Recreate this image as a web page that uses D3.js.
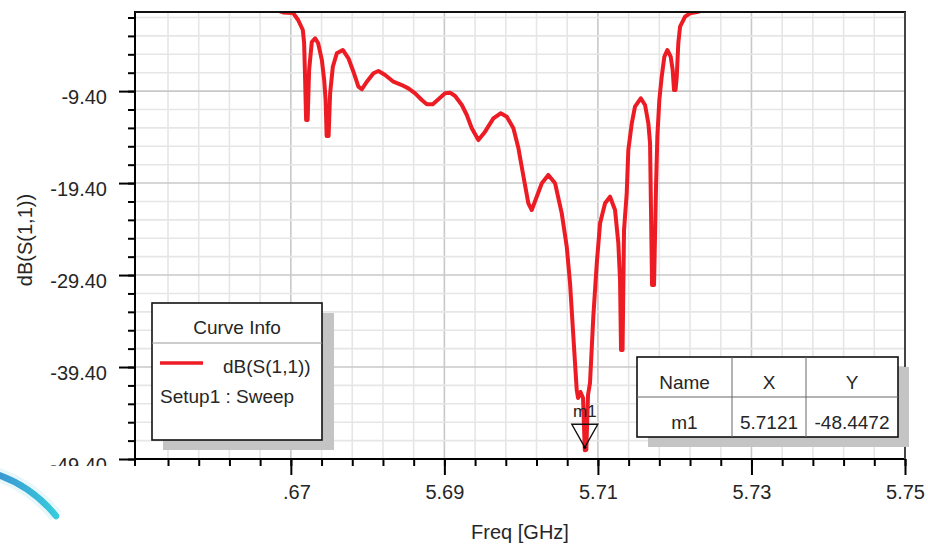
<!DOCTYPE html>
<html>
<head>
<meta charset="utf-8">
<title>dB(S(1,1))</title>
<script src="https://cdn.jsdelivr.net/npm/d3@7"></script>
<style>
  body{margin:0;background:#fff;}
  svg{display:block;font-family:"Liberation Sans",Arial,sans-serif;}
</style>
</head>
<body>
<div id="chart"></div>
<script>
// S11 sweep (GHz, dB)
var freq = [5.64973, 5.6673, 5.6690, 5.6703, 5.67095, 5.67156, 5.67173, 5.67186, 5.67199, 5.67219,
            5.67238, 5.67273, 5.67316, 5.67355, 5.67404, 5.67434, 5.67453, 5.67466, 5.67492, 5.67512,
            5.67547, 5.67599, 5.67677, 5.6775, 5.67815, 5.6788, 5.67925, 5.6799, 5.68076, 5.68141,
            5.68228, 5.68336, 5.68445, 5.68531, 5.68619, 5.68706, 5.68771, 5.68849, 5.68922, 5.69009,
            5.69074, 5.6914, 5.69227, 5.69292, 5.69357, 5.69443, 5.6953, 5.69638, 5.69735, 5.69813,
            5.69899, 5.69964, 5.70029, 5.70094, 5.70138, 5.70203, 5.70269, 5.70354, 5.70442, 5.70529,
            5.70594, 5.70637, 5.70672, 5.70702, 5.70724, 5.70741, 5.70773, 5.70806, 5.70829, 5.70849,
            5.70871, 5.70897, 5.7094, 5.70985, 5.71028, 5.71093, 5.71158, 5.71223, 5.71266, 5.71288,
            5.71301, 5.71321, 5.7134, 5.71375, 5.71396, 5.71441, 5.71483, 5.71558, 5.71614, 5.71657,
            5.71679, 5.71705, 5.71731, 5.71757, 5.71774, 5.718, 5.71831, 5.71865, 5.71904, 5.71948,
            5.71974, 5.71991, 5.72011, 5.72027, 5.72047, 5.7207, 5.72135, 5.722, 5.72291, 5.7246, 5.75];
var s11 = [-0.10, -0.37, -0.85, -0.91, -1.67, -2.76, -4.17, -8.19, -12.54, -12.54,
           -7.11, -4.06, -3.66, -4.17, -6.02, -8.19, -10.37, -14.28, -14.28, -9.61,
           -6.75, -5.29, -4.93, -5.83, -7.29, -8.92, -9.20, -8.38, -7.46, -7.21,
           -7.65, -8.38, -8.74, -9.10, -9.64, -10.37, -10.83, -10.83, -10.29, -9.64,
           -9.57, -9.93, -10.91, -12.00, -13.44, -14.72, -13.81, -12.36, -11.81, -12.18,
           -13.44, -15.59, -18.63, -21.60, -22.33, -20.88, -19.42, -18.52, -19.42, -22.69,
           -26.32, -30.30, -35.01, -39.00, -41.90, -42.77, -42.11, -42.77, -48.45, -48.40,
           -42.44, -41.13, -33.93, -28.12, -23.77, -21.60, -20.88, -22.33, -25.95, -29.94,
           -37.55, -37.55, -24.50, -20.51, -15.80, -12.90, -11.10, -10.18, -10.91, -12.90,
           -15.07, -30.48, -30.48, -19.79, -14.36, -10.37, -7.83, -5.66, -4.93, -5.66,
           -7.11, -9.28, -9.28, -7.83, -4.20, -2.40, -1.31, -0.94, -0.80, -0.37, 0.20];

var xMajor = [5.67, 5.69, 5.71, 5.73, 5.75];
var xTickLabels = [".67", "5.69", "5.71", "5.73", "5.75"];
var yMajor = [-9.4, -19.4, -29.4, -39.4, -49.4];
var yTickLabels = ["-9.40", "-19.40", "-29.40", "-39.40", "-49.40"];

var tableHeaders = ["Name", "X", "Y"];
var markerRow = ["m1", "5.7121", "-48.4472"];
var legendTitle = "Curve Info";
var legendName = "dB(S(1,1))";
var legendSetup = "Setup1 : Sweep";

var W = 928, H = 547;
var pL = 135, pR = 905, pT = 12, pB = 459;
var red = "#ed1c24";
var ink = "#262626";

var x = d3.scaleLinear().domain([5.6497, 5.75]).range([pL, pR]);
var y = d3.scaleLinear().domain([-49.4, -0.8]).range([pB, pT]);

var xMinor = d3.range(1, 26).map(function(i){ return +(5.65 + 0.004 * i).toFixed(3); });
var yMinor = d3.range(0, 25).map(function(i){ return +(-49.4 + 2 * i).toFixed(1); });

var svg = d3.select("#chart").append("svg")
  .attr("width", W).attr("height", H);

// grid
var grid = svg.append("g");
grid.selectAll(".gx").data(xMinor).enter().append("line")
  .attr("x1", function(d){ return x(d); }).attr("x2", function(d){ return x(d); })
  .attr("y1", pT).attr("y2", pB)
  .attr("stroke", function(d){ return xMajor.indexOf(d) >= 0 ? "#c8c8c8" : "#e6e6e6"; })
  .attr("stroke-width", 1.6);
grid.selectAll(".gy").data(yMinor).enter().append("line")
  .attr("x1", pL).attr("x2", pR)
  .attr("y1", function(d){ return y(d); }).attr("y2", function(d){ return y(d); })
  .attr("stroke", function(d){ return yMajor.indexOf(d) >= 0 ? "#c8c8c8" : "#e6e6e6"; })
  .attr("stroke-width", 1.6);

// curve
svg.append("clipPath").attr("id", "plotclip").append("rect")
  .attr("x", pL).attr("y", pT).attr("width", pR - pL).attr("height", pB - pT);
var line = d3.line()
  .x(function(i){ return x(freq[i]); })
  .y(function(i){ return y(s11[i]); });
svg.append("path")
  .attr("clip-path", "url(#plotclip)")
  .attr("d", line(d3.range(freq.length)))
  .attr("fill", "none").attr("stroke", red)
  .attr("stroke-width", 4).attr("stroke-linejoin", "round");

// axes
function styleAxis(g){
  g.select(".domain").remove();
  g.selectAll("line").attr("stroke", "#000").attr("stroke-width", 2);
  g.selectAll("text").attr("fill", ink).attr("font-size", 20)
    .attr("font-family", "'Liberation Sans', Arial, sans-serif");
}
svg.append("g").attr("transform", "translate(0," + pB + ")")
  .call(d3.axisBottom(x).tickValues(xMinor).tickSize(7).tickFormat(""))
  .call(styleAxis);
var xa = svg.append("g").attr("transform", "translate(0," + pB + ")")
  .call(d3.axisBottom(x).tickValues(xMajor).tickSize(16).tickPadding(10)
    .tickFormat(function(d, i){ return xTickLabels[i]; }))
  .call(styleAxis);
xa.selectAll("text").filter(function(d, i){ return xTickLabels[i].charAt(0) == "."; })
  .attr("dx", "0.28em");

svg.append("g").attr("transform", "translate(" + pL + ",0)")
  .call(d3.axisLeft(y).tickValues(yMinor).tickSize(7).tickFormat(""))
  .call(styleAxis);
svg.append("g").attr("transform", "translate(" + pL + ",0)")
  .call(d3.axisLeft(y).tickValues(yMajor).tickSize(16).tickPadding(12)
    .tickFormat(function(d, i){ return yTickLabels[i]; }))
  .call(styleAxis)
  .selectAll("text").attr("dy", "0.62em");

// frame
svg.append("line").attr("x1", pL).attr("x2", pL).attr("y1", pT - 1).attr("y2", pB + 7)
  .attr("stroke", "#000").attr("stroke-width", 2);
svg.append("line").attr("x1", pL).attr("x2", pR).attr("y1", pB).attr("y2", pB)
  .attr("stroke", "#000").attr("stroke-width", 2);
svg.append("line").attr("x1", pL).attr("x2", pR + 1).attr("y1", pT).attr("y2", pT)
  .attr("stroke", "#111").attr("stroke-width", 2);
svg.append("line").attr("x1", pR).attr("x2", pR).attr("y1", pT).attr("y2", pB)
  .attr("stroke", "#444").attr("stroke-width", 2);

// axis titles
svg.append("text").attr("x", 520).attr("y", 539).attr("text-anchor", "middle")
  .attr("font-size", 20).attr("fill", ink).text("Freq [GHz]");
svg.append("text").attr("transform", "translate(32,240) rotate(-90)").attr("text-anchor", "middle")
  .attr("font-size", 20).attr("fill", ink).text("dB(S(1,1))");

// legend box
var lg = svg.append("g");
lg.append("rect").attr("x", 163).attr("y", 313).attr("width", 171).attr("height", 137).attr("fill", "#c4c4c4");
lg.append("rect").attr("x", 152).attr("y", 303).attr("width", 170).attr("height", 137)
  .attr("fill", "#fff").attr("stroke", "#111").attr("stroke-width", 1.6);
lg.append("line").attr("x1", 152).attr("x2", 322).attr("y1", 343).attr("y2", 343)
  .attr("stroke", "#9a9a9a").attr("stroke-width", 1);
lg.append("text").attr("x", 237).attr("y", 334).attr("text-anchor", "middle")
  .attr("font-size", 19).attr("fill", ink).text(legendTitle);
lg.append("line").attr("x1", 160).attr("x2", 203).attr("y1", 363).attr("y2", 363)
  .attr("stroke", red).attr("stroke-width", 3.6);
lg.append("text").attr("x", 223).attr("y", 373)
  .attr("font-size", 19).attr("fill", ink).text(legendName);
lg.append("text").attr("x", 160).attr("y", 403)
  .attr("font-size", 19).attr("fill", ink).text(legendSetup);

// marker table
var tb = svg.append("g");
var colX = [637, 732, 806, 898];
tb.append("rect").attr("x", 648).attr("y", 367).attr("width", 261).attr("height", 80).attr("fill", "#c4c4c4");
tb.append("rect").attr("x", 637).attr("y", 357).attr("width", 261).attr("height", 80)
  .attr("fill", "#fff").attr("stroke", "#111").attr("stroke-width", 1.6);
tb.append("line").attr("x1", 637).attr("x2", 898).attr("y1", 397).attr("y2", 397)
  .attr("stroke", "#666").attr("stroke-width", 1);
[1, 2].forEach(function(c){
  tb.append("line").attr("x1", colX[c]).attr("x2", colX[c]).attr("y1", 357).attr("y2", 437)
    .attr("stroke", "#666").attr("stroke-width", 1);
});
tableHeaders.forEach(function(h, c){
  tb.append("text").attr("x", (colX[c] + colX[c + 1]) / 2).attr("y", 389).attr("text-anchor", "middle")
    .attr("font-size", 19).attr("fill", ink).text(h);
  tb.append("text").attr("x", (colX[c] + colX[c + 1]) / 2).attr("y", 429).attr("text-anchor", "middle")
    .attr("font-size", 19).attr("fill", ink).text(markerRow[c]);
});

// marker m1 at the minimum
var mi = d3.minIndex(s11);
var mx = x(freq[mi]), my = y(s11[mi]) - 3;
svg.append("path")
  .attr("d", "M" + (mx - 13) + "," + (my - 23) + "L" + (mx + 13) + "," + (my - 23) + "L" + mx + "," + my + "Z")
  .attr("fill", "none").attr("stroke", "#111").attr("stroke-width", 1.4);
svg.append("circle").attr("cx", mx).attr("cy", my).attr("r", 1.6).attr("fill", "#000");
svg.append("text").attr("x", mx).attr("y", my - 30).attr("text-anchor", "middle")
  .attr("font-size", 17).attr("fill", ink).text(markerRow[0]);

// logo fragment in the corner
svg.append("rect").attr("x", 0).attr("y", 466).attr("width", 112).attr("height", 81).attr("fill", "#fff");
var grad = svg.append("defs").append("linearGradient").attr("id", "arcg")
  .attr("x1", "0%").attr("x2", "100%").attr("y1", "0%").attr("y2", "0%");
grad.append("stop").attr("offset", "0%").attr("stop-color", "#3a95d2");
grad.append("stop").attr("offset", "100%").attr("stop-color", "#36cbdc");
svg.append("path").attr("d", "M-4,474 A130,130 0 0 1 56,516")
  .attr("fill", "none").attr("stroke", "#bfe6f2").attr("stroke-width", 14).attr("opacity", 0.35);
svg.append("path").attr("d", "M-4,474 A130,130 0 0 1 56,516")
  .attr("fill", "none").attr("stroke", "url(#arcg)").attr("stroke-width", 6.5).attr("stroke-linecap", "round");
</script>
</body>
</html>
